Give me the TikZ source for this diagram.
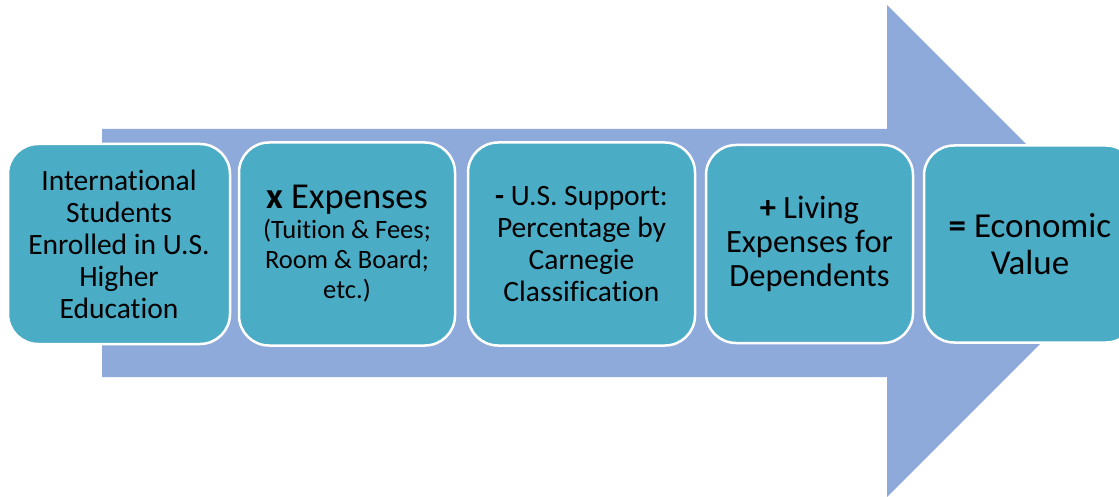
\documentclass[tikz,border=0pt]{standalone}
\usepackage{fontspec}
\setmainfont{Carlito}[Ligatures=NoCommon]
\usetikzlibrary{positioning}
\definecolor{shaftblue}{RGB}{142,170,219}
\definecolor{boxteal}{RGB}{75,172,198}
\begin{document}
\begin{tikzpicture}[x=1pt,y=-1pt]
\tikzstyle{every node}=[draw=white,line width=2.5pt,fill=boxteal,shape=rectangle,rounded corners=30pt,align=center,inner sep=0pt,minimum height=200pt];
\clip (0,0) rectangle (1119,497);
\fill[shaftblue] (102,129) -- (887,129) -- (887,5) -- (1133,251) -- (887,497) -- (887,377) -- (102,377) -- cycle;
\node (enrolled) at (119,244) [minimum width=222pt,font=\fontsize{29.5}{32}\selectfont]
	{International\\Students\\Enrolled in U.S.\\Higher\\Education};
\node (expenses) [right=6.5pt of enrolled,minimum width=216pt,minimum height=203pt,font=\fontsize{26.5}{30}\selectfont]
	{{\fontsize{36.5}{33}\selectfont\textbf{x} Expenses}\\(Tuition \& Fees;\\Room \& Board;\\etc.)};
\node (support) [right=10.5pt of expenses,minimum width=227pt,minimum height=203pt,font=\fontsize{29.5}{32}\selectfont]
	{\textbf{-} U.S. Support:\\Percentage by\\Carnegie\\Classification};
\node (living) [right=8.5pt of support,minimum width=207pt,minimum height=198pt,font=\fontsize{32.5}{34}\selectfont]
	{\textbf{+} Living\\Expenses for\\Dependents};
\node (value) [right=8.5pt of living,minimum width=212pt,minimum height=197pt,font=\fontsize{35}{37}\selectfont]
	{\textbf{=} Economic\\Value};
\end{tikzpicture}
\end{document}
